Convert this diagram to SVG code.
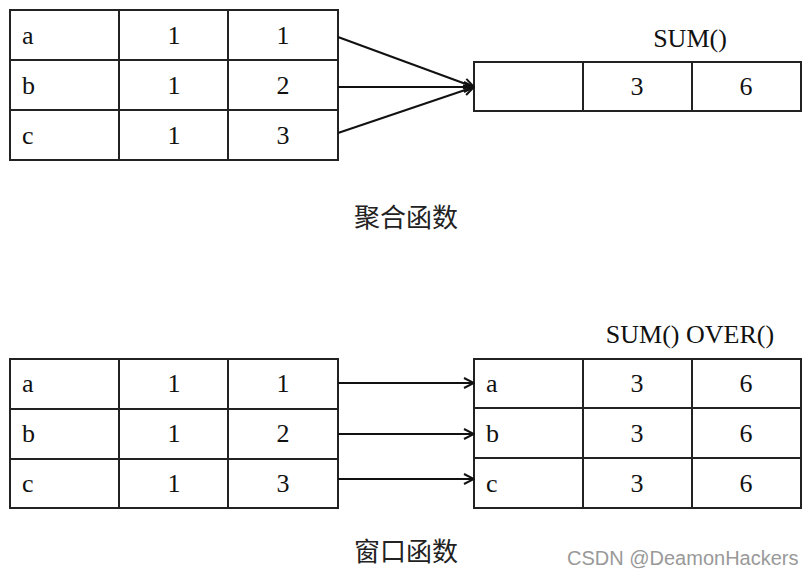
<svg xmlns="http://www.w3.org/2000/svg" width="812" height="578" viewBox="0 0 812 578">
<defs>
<style>
.cell{fill:#fff;stroke:#222;stroke-width:2}
.t{font-family:"Liberation Serif","Times New Roman",serif;font-size:26px;fill:#111}
.c{text-anchor:middle}
.cap{font-family:"Liberation Serif","Noto Sans CJK SC",serif;font-size:26px;fill:#222;text-anchor:middle}
.conn{stroke:#111;stroke-width:2;fill:none;marker-end:url(#ah)}
.wm{font-family:"Liberation Sans",Arial,sans-serif;font-size:20px;fill:#999}
</style>
<marker id="ah" viewBox="0 0 12 12" refX="11" refY="6" markerWidth="12" markerHeight="12" markerUnits="userSpaceOnUse" orient="auto">
<path d="M1,1 L11,6 L1,11" fill="none" stroke="#111" stroke-width="2"/>
</marker>
</defs>
<rect width="812" height="578" fill="#fff"/>
<g id="agg-input">
<rect class="cell" x="10" y="10" width="109" height="50"/><rect class="cell" x="119" y="10" width="109" height="50"/><rect class="cell" x="228" y="10" width="110" height="50"/>
<rect class="cell" x="10" y="60" width="109" height="50"/><rect class="cell" x="119" y="60" width="109" height="50"/><rect class="cell" x="228" y="60" width="110" height="50"/>
<rect class="cell" x="10" y="110" width="109" height="50"/><rect class="cell" x="119" y="110" width="109" height="50"/><rect class="cell" x="228" y="110" width="110" height="50"/>
<text class="t" x="22" y="44">a</text><text class="t c" x="174" y="44">1</text><text class="t c" x="283" y="44">1</text>
<text class="t" x="22" y="94">b</text><text class="t c" x="174" y="94">1</text><text class="t c" x="283" y="94">2</text>
<text class="t" x="22" y="144">c</text><text class="t c" x="174" y="144">1</text><text class="t c" x="283" y="144">3</text>
</g>
<g id="agg-output">
<rect class="cell" x="474" y="62" width="109" height="49"/><rect class="cell" x="583" y="62" width="109" height="49"/><rect class="cell" x="692" y="62" width="109" height="49"/>
<text class="t c" x="637" y="95">3</text><text class="t c" x="746" y="95">6</text>
<text class="t c" x="690" y="47">SUM()</text>
</g>
<g id="win-input">
<rect class="cell" x="10" y="359" width="109" height="50"/><rect class="cell" x="119" y="359" width="109" height="50"/><rect class="cell" x="228" y="359" width="110" height="50"/>
<rect class="cell" x="10" y="409" width="109" height="50"/><rect class="cell" x="119" y="409" width="109" height="50"/><rect class="cell" x="228" y="409" width="110" height="50"/>
<rect class="cell" x="10" y="459" width="109" height="49"/><rect class="cell" x="119" y="459" width="109" height="49"/><rect class="cell" x="228" y="459" width="110" height="49"/>
<text class="t" x="22" y="392">a</text><text class="t c" x="174" y="392">1</text><text class="t c" x="283" y="392">1</text>
<text class="t" x="22" y="442">b</text><text class="t c" x="174" y="442">1</text><text class="t c" x="283" y="442">2</text>
<text class="t" x="22" y="492">c</text><text class="t c" x="174" y="492">1</text><text class="t c" x="283" y="492">3</text>
</g>
<g id="win-output">
<rect class="cell" x="474" y="359" width="109" height="49"/><rect class="cell" x="583" y="359" width="109" height="49"/><rect class="cell" x="692" y="359" width="109" height="49"/>
<rect class="cell" x="474" y="408" width="109" height="50"/><rect class="cell" x="583" y="408" width="109" height="50"/><rect class="cell" x="692" y="408" width="109" height="50"/>
<rect class="cell" x="474" y="458" width="109" height="50"/><rect class="cell" x="583" y="458" width="109" height="50"/><rect class="cell" x="692" y="458" width="109" height="50"/>
<text class="t" x="486" y="392">a</text><text class="t c" x="637" y="392">3</text><text class="t c" x="746" y="392">6</text>
<text class="t" x="486" y="442">b</text><text class="t c" x="637" y="442">3</text><text class="t c" x="746" y="442">6</text>
<text class="t" x="486" y="492">c</text><text class="t c" x="637" y="492">3</text><text class="t c" x="746" y="492">6</text>
<text class="t c" x="690" y="343">SUM() OVER()</text>
</g>
<g id="connectors">
<line class="conn" x1="338" y1="37" x2="474" y2="87"/>
<line class="conn" x1="338" y1="87" x2="474" y2="87"/>
<line class="conn" x1="338" y1="133" x2="474" y2="87"/>
<line class="conn" x1="338" y1="383" x2="474" y2="383"/>
<line class="conn" x1="338" y1="434" x2="474" y2="434"/>
<line class="conn" x1="338" y1="479" x2="474" y2="479"/>
</g>
<g id="captions">
<text class="cap" x="406" y="227">聚合函数</text>
<text class="cap" x="406" y="561">窗口函数</text>
</g>
<text class="wm" x="567" y="565">CSDN @DeamonHackers</text>
</svg>
